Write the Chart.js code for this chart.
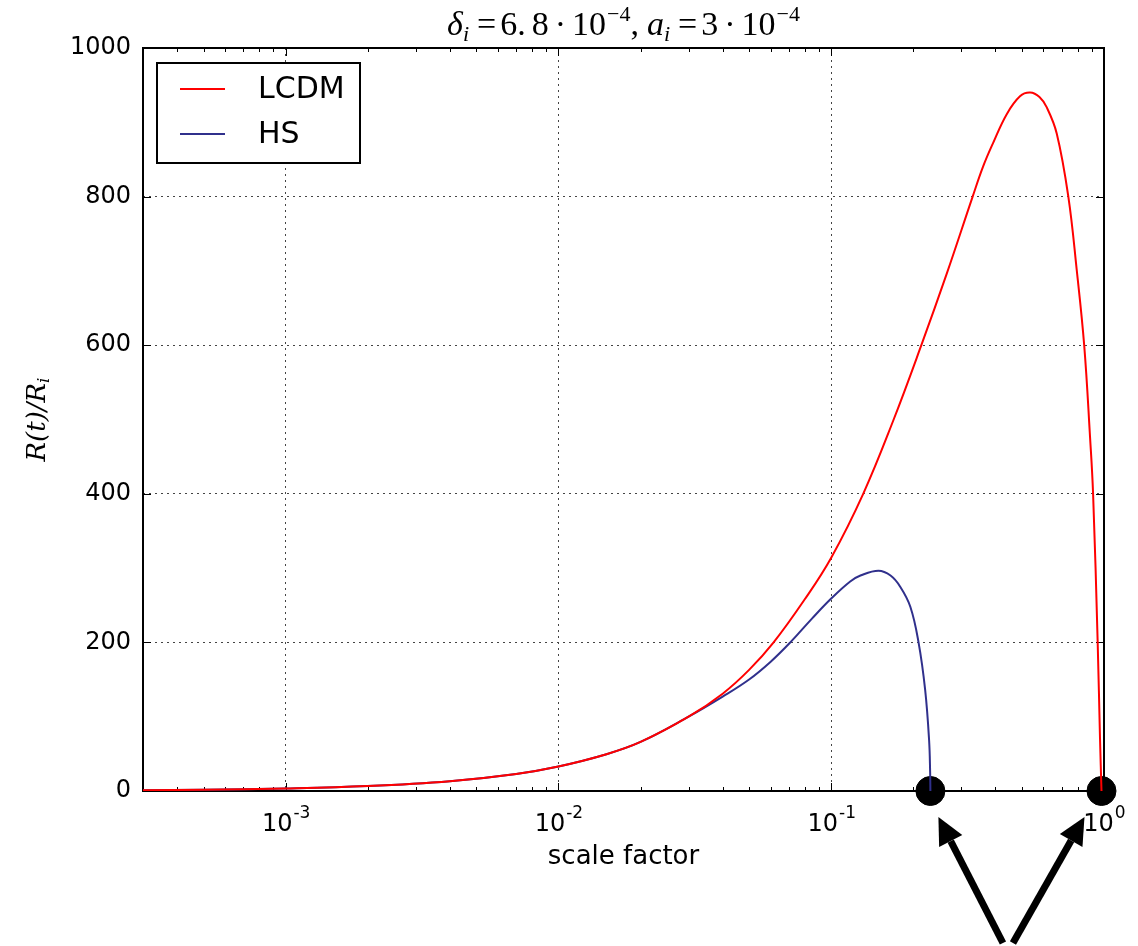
<!DOCTYPE html>
<html>
<head>
<meta charset="utf-8">
<script src="https://cdn.jsdelivr.net/npm/chart.js@4.4.1/dist/chart.umd.min.js"></script>
<style>
  html, body { margin: 0; padding: 0; background: #fff; }
  #wrap { width: 1138px; height: 946px; }
</style>
</head>
<body>
<div id="wrap"><canvas id="grafico" width="1138" height="946"></canvas></div>
<script>
// Valores: factor de escala (a) y R(t)/R_i
const aLCDM = [3e-4, 5e-4, 1e-3, 2e-3, 4e-3, 7e-3, 0.01, 0.015, 0.02, 0.03, 0.04, 0.05, 0.0615, 0.08, 0.1,
               0.131, 0.169, 0.214, 0.265, 0.33, 0.36, 0.392, 0.44, 0.492, 0.536, 0.58, 0.617,
               0.671, 0.74, 0.794, 0.846, 0.889, 0.912, 0.948, 0.967, 0.979];
const rLCDM = [1, 1.7, 3.3, 6.6, 13.2, 23, 33, 49.5, 66, 100, 131, 163, 200, 258, 314,
               400, 499, 600, 696, 800, 840, 872, 911, 935, 940, 934, 920,
               885, 800, 702, 600, 476, 400, 200, 70, 0];

const aHS = [3e-4, 5e-4, 1e-3, 2e-3, 4e-3, 7e-3, 0.01, 0.015, 0.02, 0.03, 0.04, 0.05, 0.06, 0.0708, 0.085,
             0.1, 0.1174, 0.128, 0.149, 0.165, 0.179, 0.195, 0.209, 0.221, 0.2285, 0.2305, 0.231];
const rHS = [1, 1.7, 3.3, 6.6, 13.2, 23, 33, 49.5, 66, 100, 127, 150, 174, 200, 232,
             259, 282, 290, 296.5, 290, 275, 248, 200, 136, 68, 25, 0];

// puntos de colapso marcados con circulos
const aColapso = [0.231, 0.979];

const etiquetas = ['LCDM', 'HS'];
const colores = ['#ff0000', '#30308c'];

const xMin = 3e-4, xMax = 1;
const yMin = 0, yMax = 1000, yPaso = 200;
const xMayores = [1e-3, 1e-2, 1e-1, 1];
const xExpon = ['-3', '-2', '-1', '0'];

function esMayor(v) {
    return Math.abs(Math.log10(v) - Math.round(Math.log10(v))) < 1e-9;
}

function pares(xs, ys) {
    return xs.map(function(x, i) { return { x: x, y: ys[i] }; });
}

// Ejes, marcas interiores, textos, leyenda y flechas
const adornos = {
    id: 'adornos',
    beforeDatasetsDraw(chart) {
        const ctx = chart.ctx, area = chart.chartArea;
        const xs = chart.scales.x, ys = chart.scales.y;
        ctx.save();
        ctx.strokeStyle = '#000';
        ctx.lineWidth = 1;
        xs.ticks.forEach(function(t) {
            const px = Math.round(xs.getPixelForValue(t.value)) + 0.5;
            const len = esMayor(t.value) ? 8 : 4;
            ctx.beginPath();
            ctx.moveTo(px, area.bottom); ctx.lineTo(px, area.bottom - len);
            ctx.moveTo(px, area.top); ctx.lineTo(px, area.top + len);
            ctx.stroke();
        });
        ys.ticks.forEach(function(t) {
            const py = Math.round(ys.getPixelForValue(t.value)) + 0.5;
            ctx.beginPath();
            ctx.moveTo(area.left, py); ctx.lineTo(area.left + 8, py);
            ctx.moveTo(area.right, py); ctx.lineTo(area.right - 8, py);
            ctx.stroke();
        });
        ctx.lineWidth = 2;
        ctx.strokeRect(area.left, area.top, area.right - area.left, area.bottom - area.top);
        ctx.restore();
    },
    afterDraw(chart) {
        const ctx = chart.ctx, area = chart.chartArea;
        const xs = chart.scales.x;
        ctx.save();
        ctx.fillStyle = '#000';

        // etiquetas del eje x con exponente
        xMayores.forEach(function(v, i) {
            const px = xs.getPixelForValue(v);
            ctx.font = '24px "DejaVu Sans"';
            const wBase = ctx.measureText('10').width;
            ctx.font = '17px "DejaVu Sans"';
            const wExp = ctx.measureText(xExpon[i]).width;
            const x0 = px - (wBase + wExp) / 2;
            ctx.textBaseline = 'alphabetic';
            ctx.textAlign = 'left';
            ctx.font = '24px "DejaVu Sans"';
            ctx.fillText('10', x0, area.bottom + 40);
            ctx.font = '17px "DejaVu Sans"';
            ctx.fillText(xExpon[i], x0 + wBase + 1, area.bottom + 27);
        });

        // titulo del eje x
        ctx.font = '26px "DejaVu Sans"';
        ctx.textAlign = 'center';
        ctx.textBaseline = 'middle';
        ctx.fillText('scale factor', (area.left + area.right) / 2, area.bottom + 66);

        // titulo del eje y: R(t)/R_i
        ctx.save();
        ctx.translate(38, (area.top + area.bottom) / 2);
        ctx.rotate(-Math.PI / 2);
        ctx.font = 'italic 26px "DejaVu Serif"';
        const wR = ctx.measureText('R(t)/R').width;
        ctx.font = 'italic 17px "DejaVu Serif"';
        const wi = ctx.measureText('i').width;
        const xi = -(wR + wi) / 2;
        ctx.textAlign = 'left';
        ctx.textBaseline = 'middle';
        ctx.font = 'italic 26px "DejaVu Serif"';
        ctx.fillText('R(t)/R', xi, 0);
        ctx.font = 'italic 17px "DejaVu Serif"';
        ctx.fillText('i', xi + wR, 7);
        ctx.restore();

        // titulo superior: delta_i = 6.8 . 10^-4, a_i = 3 . 10^-4
        const F = '34px "Liberation Serif"', FI = 'italic 34px "Liberation Serif"';
        const S = '22px "Liberation Serif"', SI = 'italic 22px "Liberation Serif"';
        // [texto, fuente, desplazamiento vertical, espacio despues]
        const partes = [
            ['δ', FI, 0, 0], ['i', SI, 6, 8], ['=', F, 0, 4], ['6.', F, 0, 6], ['8', F, 0, 6],
            ['·', F, 0, 6], ['10', F, 0, 1], ['−4', S, -14, 0], [',', F, 0, 8],
            ['a', FI, 0, 0], ['i', SI, 6, 8], ['=', F, 0, 4], ['3', F, 0, 6],
            ['·', F, 0, 6], ['10', F, 0, 1], ['−4', S, -14, 0]
        ];
        let total = 0;
        partes.forEach(function(p) { ctx.font = p[1]; total += ctx.measureText(p[0]).width + p[3]; });
        let xt = (area.left + area.right) / 2 - total / 2;
        ctx.textAlign = 'left';
        ctx.textBaseline = 'alphabetic';
        partes.forEach(function(p) {
            ctx.font = p[1];
            ctx.fillText(p[0], xt, 35 + p[2]);
            xt += ctx.measureText(p[0]).width + p[3];
        });

        // leyenda
        const lx = area.left + 14, ly = area.top + 15;
        ctx.fillStyle = '#fff';
        ctx.fillRect(lx, ly, 203, 100);
        ctx.strokeStyle = '#000';
        ctx.lineWidth = 2;
        ctx.strokeRect(lx, ly, 203, 100);
        ctx.font = '30px "DejaVu Sans"';
        ctx.textAlign = 'left';
        ctx.textBaseline = 'middle';
        etiquetas.forEach(function(et, i) {
            const yy = ly + 26 + i * 45;
            ctx.strokeStyle = colores[i];
            ctx.lineWidth = 2;
            ctx.beginPath();
            ctx.moveTo(lx + 23, yy); ctx.lineTo(lx + 68, yy);
            ctx.stroke();
            ctx.fillStyle = '#000';
            ctx.fillText(et, lx + 101, yy + 1);
        });

        // flechas hacia los puntos de colapso
        const pts = chart.getDatasetMeta(2).data;
        if (pts.length === 2) {
            const medio = (pts[0].x + pts[1].x) / 2;
            const baseY = chart.height - 3;
            flecha(ctx, medio - 13, baseY, pts[0].x + 8, pts[0].y + 26);
            flecha(ctx, medio - 3, baseY, pts[1].x - 17, pts[1].y + 26);
        }
        ctx.restore();
    }
};

function flecha(ctx, x0, y0, x1, y1) {
    const ang = Math.atan2(y1 - y0, x1 - x0);
    const largo = 27, ancho = 13;
    const bx = x1 - largo * Math.cos(ang), by = y1 - largo * Math.sin(ang);
    ctx.strokeStyle = '#000';
    ctx.fillStyle = '#000';
    ctx.lineWidth = 7;
    ctx.beginPath();
    ctx.moveTo(x0, y0);
    ctx.lineTo(bx, by);
    ctx.stroke();
    ctx.beginPath();
    ctx.moveTo(x1, y1);
    ctx.lineTo(bx + ancho * Math.sin(ang), by - ancho * Math.cos(ang));
    ctx.lineTo(bx - ancho * Math.sin(ang), by + ancho * Math.cos(ang));
    ctx.closePath();
    ctx.fill();
}

const ctx = document.getElementById('grafico').getContext('2d');
const grafico = new Chart(ctx, {
    type: 'line',
    data: {
        datasets: [
            {
                label: etiquetas[0],
                data: pares(aLCDM, rLCDM),
                borderColor: colores[0],
                borderWidth: 2,
                pointRadius: 0,
                tension: 0.4,
                fill: false
            },
            {
                label: etiquetas[1],
                data: pares(aHS, rHS),
                borderColor: colores[1],
                borderWidth: 2,
                pointRadius: 0,
                tension: 0.4,
                fill: false
            },
            {
                type: 'scatter',
                label: 'colapso',
                data: aColapso.map(function(a) { return { x: a, y: 0 }; }),
                backgroundColor: '#000',
                borderColor: '#000',
                pointRadius: 14.5,
                clip: false
            }
        ]
    },
    options: {
        responsive: false,
        animation: false,
        layout: { padding: { top: 48, right: 34, bottom: 0, left: 0 } },
        plugins: {
            legend: { display: false },
            title: { display: false },
            tooltip: { enabled: false }
        },
        scales: {
            x: {
                type: 'logarithmic',
                min: xMin,
                max: xMax,
                afterBuildTicks: function(scale) {
                    const t = [];
                    for (let e = -4; e <= 0; e++) {
                        for (let m = 1; m <= 9; m++) {
                            const v = m * Math.pow(10, e);
                            if (v >= xMin * 0.999 && v <= xMax * 1.001) t.push({ value: v });
                        }
                    }
                    scale.ticks = t;
                },
                afterFit: function(scale) { scale.height = 946 - 791; },
                ticks: { display: false, autoSkip: false },
                grid: {
                    drawTicks: false,
                    color: function(c) { return c.tick && esMayor(c.tick.value) ? '#444' : 'rgba(0,0,0,0)'; },
                    lineWidth: 1
                },
                border: { display: false, dash: [2, 4] }
            },
            y: {
                min: yMin,
                max: yMax,
                afterFit: function(scale) { scale.width = 143; },
                ticks: {
                    stepSize: yPaso,
                    padding: 12,
                    color: '#000',
                    font: { family: 'DejaVu Sans', size: 24 },
                    callback: function(v) { return String(v); }
                },
                grid: {
                    drawTicks: false,
                    color: '#444',
                    lineWidth: 1
                },
                border: { display: false, dash: [2, 4] }
            }
        }
    },
    plugins: [adornos]
});
</script>
</body>
</html>
